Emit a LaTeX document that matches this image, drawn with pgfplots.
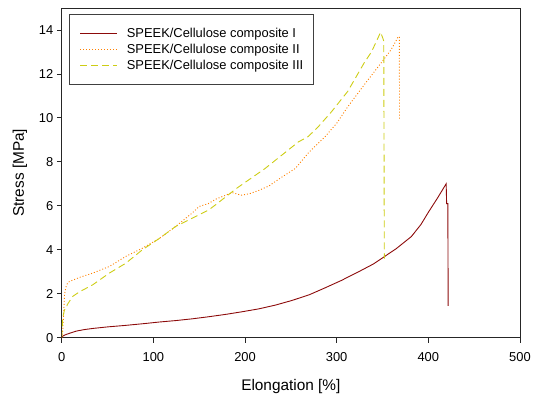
\documentclass[border=0pt]{standalone}
\usepackage{pgfplots}
\pgfplotsset{compat=1.18}
\usepackage{fontspec}
\setmainfont{Liberation Sans}
\definecolor{cI}{RGB}{140,10,10}
\definecolor{cII}{RGB}{255,128,0}
\definecolor{cIII}{RGB}{205,205,20}
\begin{document}
\begin{tikzpicture}
\begin{axis}[
  scale only axis,
  width=460bp, height=331bp,
  xmin=0, xmax=500, ymin=0, ymax=15,
  xtick={0,100,...,500}, ytick={0,2,...,14},
  tick align=outside, tick pos=left,
  major tick length=5bp,
  axis line style={black!85, line width=0.8pt},
  every tick/.style={black!85, line width=0.8pt},
  /pgf/number format/assume math mode=true,
  tick label style={font=\fontsize{13}{15}\selectfont},
  xticklabel style={yshift=-6bp},
  xlabel={Elongation [\%]}, ylabel={Stress [MPa]},
  label style={font=\fontsize{15.5}{18}\selectfont},
  xlabel style={at={(axis description cs:0.5,0)}, anchor=center, yshift=-49bp},
  ylabel style={at={(axis description cs:0,0.5)}, anchor=center, yshift=42bp},
  legend style={at={(0,1)}, anchor=north west, xshift=7.3bp, yshift=-6bp,
    draw=black!75, line width=0.6pt, font=\fontsize{13}{15}\selectfont,
    nodes={inner sep=0pt},
    row sep=5bp, inner xsep=10.5bp, inner ysep=14bp},
  legend cell align=left,
  legend image code/.code={\draw[#1] (0bp,0bp) -- (37bp,0bp);},
  /tikz/every odd column/.append style={column sep=9.4bp},
]
\addplot[cI, line width=0.9pt] coordinates {
(0,0) (1.4,0.08) (5,0.15) (10,0.22) (16,0.3) (25,0.37) (34,0.42) (50,0.49)
(70,0.56) (90,0.64) (106,0.71) (125,0.78) (143,0.86) (160,0.95) (179,1.06)
(197,1.18) (215,1.31) (233,1.48) (251,1.69) (270,1.95) (287,2.26) (305,2.6)
(324,3.0) (340,3.35) (349,3.6) (365,4.05) (381.5,4.6) (392,5.15) (400,5.7)
(410,6.35) (419.5,7.0) (420,6.1) (421.3,6.1) (421.7,1.45)
};
\addlegendentry{SPEEK/Cellulose composite I}
\addplot[cII, line width=0.9pt, dash pattern=on 1bp off 2bp] coordinates {
(0,0) (1,0.3) (2,1.0) (3,1.95) (4.5,2.3) (6.5,2.5) (8.7,2.56) (20,2.75)
(34,2.94) (52,3.24) (70,3.7) (88,4.07) (106,4.5) (124,5.05) (142,5.66)
(150,5.97) (160,6.1) (168,6.3) (186,6.6) (196,6.48) (205,6.55) (215,6.7)
(226,6.9) (240,7.3) (255,7.7) (270,8.45) (287,9.13) (300,9.75)
(312,10.5) (330,11.5) (348.5,12.5) (359.4,13.1) (366.6,13.65) (368.4,13.7) (368.6,9.95)
};
\addlegendentry{SPEEK/Cellulose composite II}
\addplot[cIII, line width=0.9pt, dash pattern=on 7bp off 4bp] coordinates {
(0,0) (1,0.9) (3,1.27) (5,1.32) (6,1.5) (8.7,1.67) (12.3,1.89) (20,2.1)
(34,2.41) (52,2.94) (70,3.39) (88,4.0) (106,4.5) (124,5.05) (142,5.43)
(160,5.8) (168,6.05) (191,6.8) (222,7.7) (258,8.9) (269,9.15) (280,9.6)
(294,10.26) (312,11.2) (330,12.5) (338,13.0) (348,13.9) (351.4,13.5) (352,3.6)
};
\addlegendentry{SPEEK/Cellulose composite III}
\end{axis}
\path ([shift={(-62bp,-58bp)}]current axis.south west) rectangle ([shift={(12bp,8bp)}]current axis.north east);
\end{tikzpicture}
\end{document}
